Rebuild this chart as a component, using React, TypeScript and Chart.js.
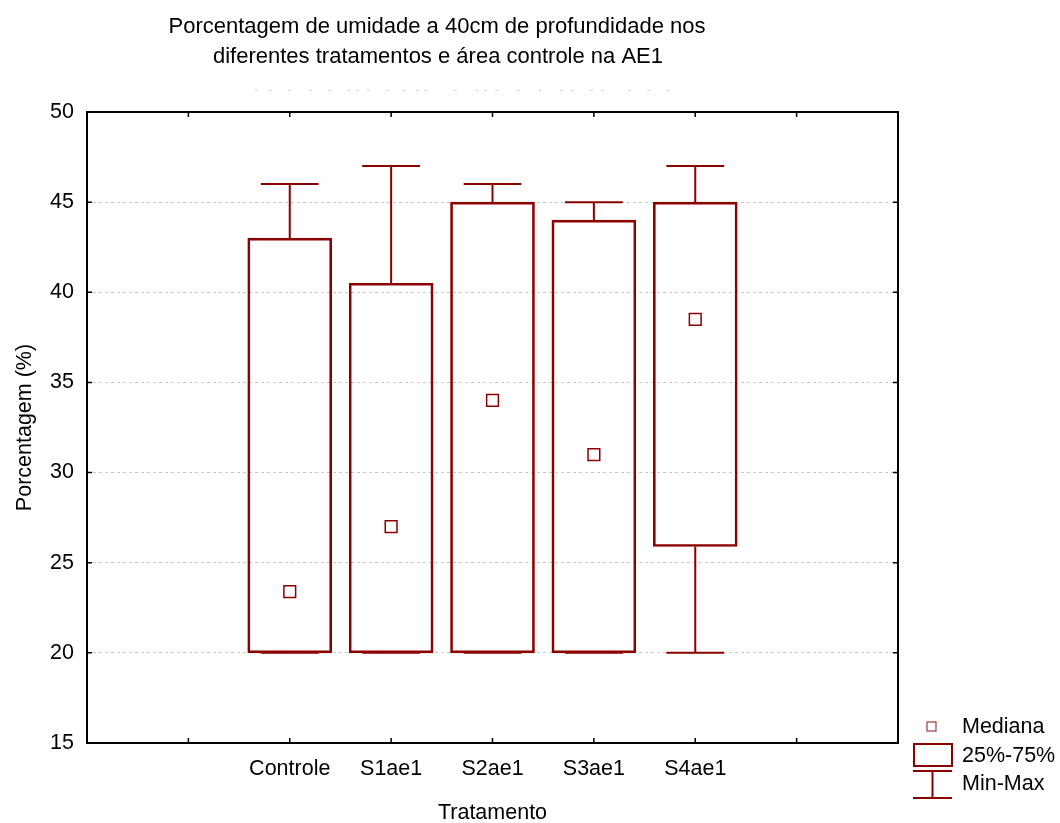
import React, { useEffect, useRef } from 'react';
import { Chart, registerables } from 'chart.js';

Chart.register(...registerables);

// ---- data ----
const categories = ['', '', 'Controle', 'S1ae1', 'S2ae1', 'S3ae1', 'S4ae1', '', ''];
const positions = [2, 3, 4, 5, 6];
const minValues = [20, 20, 20, 20, 20];
const q1Values = [20, 20, 20, 20, 25.9];
const medianValues = [23.4, 27.0, 34.0, 31.0, 38.5];
const q3Values = [43.0, 40.5, 45.0, 44.0, 45.0];
const maxValues = [46, 47, 46, 45, 47];
const yTicks = [15, 20, 25, 30, 35, 40, 45, 50];
const xTickPositions = [1, 2, 3, 4, 5, 6, 7];
const titleLines = [
  'Porcentagem de umidade a 40cm de profundidade nos',
  'diferentes tratamentos e área controle na AE1',
];
const legendLabels = ['Mediana', '25%-75%', 'Min-Max'];
const yAxisTitle = 'Porcentagem (%)';
const xAxisTitle = 'Tratamento';

// ---- style ----
const RED = '#8b0000';
const FONT = "'Liberation Sans', Arial, sans-serif";
const FS = 21.5;
const CAP_HALF = 0.285;

const decor = {
  id: 'decor',
  afterDatasetsDraw(chart: any) {
    const { ctx, scales } = chart;
    const x = scales.x;
    const y = scales.y;
    ctx.save();
    ctx.strokeStyle = RED;
    ctx.lineWidth = 2;
    positions.forEach((p, i) => {
      const cx = x.getPixelForValue(p);
      const x0 = x.getPixelForValue(p - CAP_HALF);
      const x1 = x.getPixelForValue(p + CAP_HALF);
      const yq3 = y.getPixelForValue(q3Values[i]);
      const yq1 = y.getPixelForValue(q1Values[i]);
      const yMax = y.getPixelForValue(maxValues[i]);
      const yMin = y.getPixelForValue(minValues[i]);
      ctx.beginPath();
      ctx.moveTo(cx, yq3);
      ctx.lineTo(cx, yMax);
      ctx.moveTo(x0, yMax);
      ctx.lineTo(x1, yMax);
      ctx.moveTo(cx, yq1);
      ctx.lineTo(cx, yMin);
      ctx.moveTo(x0, yMin);
      ctx.lineTo(x1, yMin);
      ctx.stroke();
    });
    ctx.restore();
  },
  afterDraw(chart: any) {
    const { ctx, chartArea, scales } = chart;
    const x = scales.x;
    const y = scales.y;
    const { left, right, top, bottom } = chartArea;
    ctx.save();
    // frame
    ctx.strokeStyle = '#000';
    ctx.lineWidth = 2;
    ctx.strokeRect(left, top, right - left, bottom - top);
    // inward ticks
    ctx.lineWidth = 1.5;
    ctx.beginPath();
    xTickPositions.forEach((v) => {
      const px = x.getPixelForValue(v);
      ctx.moveTo(px, bottom);
      ctx.lineTo(px, bottom - 5);
      ctx.moveTo(px, top);
      ctx.lineTo(px, top + 5);
    });
    yTicks.forEach((v) => {
      const py = y.getPixelForValue(v);
      ctx.moveTo(left, py);
      ctx.lineTo(left + 5, py);
      ctx.moveTo(right, py);
      ctx.lineTo(right - 5, py);
    });
    ctx.stroke();

    // title
    ctx.fillStyle = '#000';
    ctx.font = `22px ${FONT}`;
    ctx.textAlign = 'center';
    ctx.textBaseline = 'middle';
    ctx.fillText(titleLines[0], 437, 27);
    ctx.fillText(titleLines[1], 438, 57);

    // faint remnant line under the title
    ctx.fillStyle = '#bdbdbd';
    ctx.font = `9.5px ${FONT}`;
    ctx.fillText('-    -      -       -      -      -  -   -      -     -    -  -          -       -  -   -       -       -       -   -      -   -         -      -      -', 462, 90);

    // legend
    ctx.strokeStyle = '#a04a4a';
    ctx.lineWidth = 1.3;
    ctx.strokeRect(927, 722, 9, 9);
    ctx.strokeStyle = RED;
    ctx.lineWidth = 2;
    ctx.strokeRect(914, 744, 38, 22);
    ctx.beginPath();
    ctx.moveTo(913, 771);
    ctx.lineTo(952, 771);
    ctx.moveTo(932.5, 771);
    ctx.lineTo(932.5, 798);
    ctx.moveTo(913, 798);
    ctx.lineTo(952, 798);
    ctx.stroke();
    ctx.fillStyle = '#000';
    ctx.font = `${FS}px ${FONT}`;
    ctx.textAlign = 'left';
    ctx.fillText(legendLabels[0], 962, 727);
    ctx.fillText(legendLabels[1], 962, 756);
    ctx.fillText(legendLabels[2], 962, 784);
    ctx.restore();
  },
};

export default function App() {
  const ref = useRef<HTMLCanvasElement | null>(null);
  useEffect(() => {
    if (!ref.current) return;
    const chart = new Chart(ref.current, {
      type: 'bar',
      data: {
        datasets: [
          {
            type: 'bar',
            label: '25%-75%',
            data: positions.map((p, i) => ({ x: p, y: [q1Values[i], q3Values[i]] })) as any,
            backgroundColor: 'rgba(0,0,0,0)',
            borderColor: RED,
            borderWidth: 2,
            borderSkipped: false,
            barThickness: 84,
          } as any,
          {
            type: 'scatter',
            label: 'Mediana',
            data: positions.map((p, i) => ({ x: p, y: medianValues[i] })),
            pointStyle: 'rect',
            pointRadius: 8.3,
            borderColor: RED,
            borderWidth: 1.5,
            backgroundColor: 'rgba(0,0,0,0)',
          } as any,
        ],
      },
      options: {
        responsive: false,
        animation: false,
        events: [],
        layout: { padding: { top: 112, right: 162, bottom: 0, left: 0 } },
        plugins: { legend: { display: false }, tooltip: { enabled: false }, title: { display: false } },
        scales: {
          x: {
            type: 'linear',
            min: 0,
            max: 8,
            offset: false,
            afterBuildTicks: (scale: any) => {
              scale.ticks = categories.map((_, i) => ({ value: i }));
            },
            afterFit: (scale: any) => {
              scale.height = 80;
            },
            ticks: {
              autoSkip: false,
              maxRotation: 0,
              padding: 13,
              color: '#000',
              font: { family: FONT, size: FS },
              callback: (v: any) => categories[v] ?? '',
            },
            grid: { display: false, drawTicks: false, offset: false },
            border: { display: false },
            title: {
              display: true,
              text: xAxisTitle,
              color: '#000',
              font: { family: FONT, size: FS, lineHeight: 0.88 },
              padding: 0,
            },
          },
          y: {
            type: 'linear',
            min: 15,
            max: 50,
            afterBuildTicks: (scale: any) => {
              scale.ticks = yTicks.map((v) => ({ value: v }));
            },
            afterFit: (scale: any) => {
              scale.width = 87;
            },
            ticks: {
              padding: 13,
              color: '#000',
              font: { family: FONT, size: FS },
            },
            grid: { color: '#c8c8c8', lineWidth: 1, drawTicks: false },
            border: { display: false, dash: [3, 3] },
            title: {
              display: true,
              text: yAxisTitle,
              color: '#000',
              font: { family: FONT, size: FS },
              padding: { top: 12, bottom: 0 },
            },
          },
        },
      },
      plugins: [decor],
    });
    return () => chart.destroy();
  }, []);
  return (
    <div style={{ position: 'absolute', left: 0, top: 0, width: 1060, height: 823, background: '#fff' }}>
      <canvas ref={ref} width={1060} height={823} style={{ display: 'block', width: 1060, height: 823 }} />
    </div>
  );
}
